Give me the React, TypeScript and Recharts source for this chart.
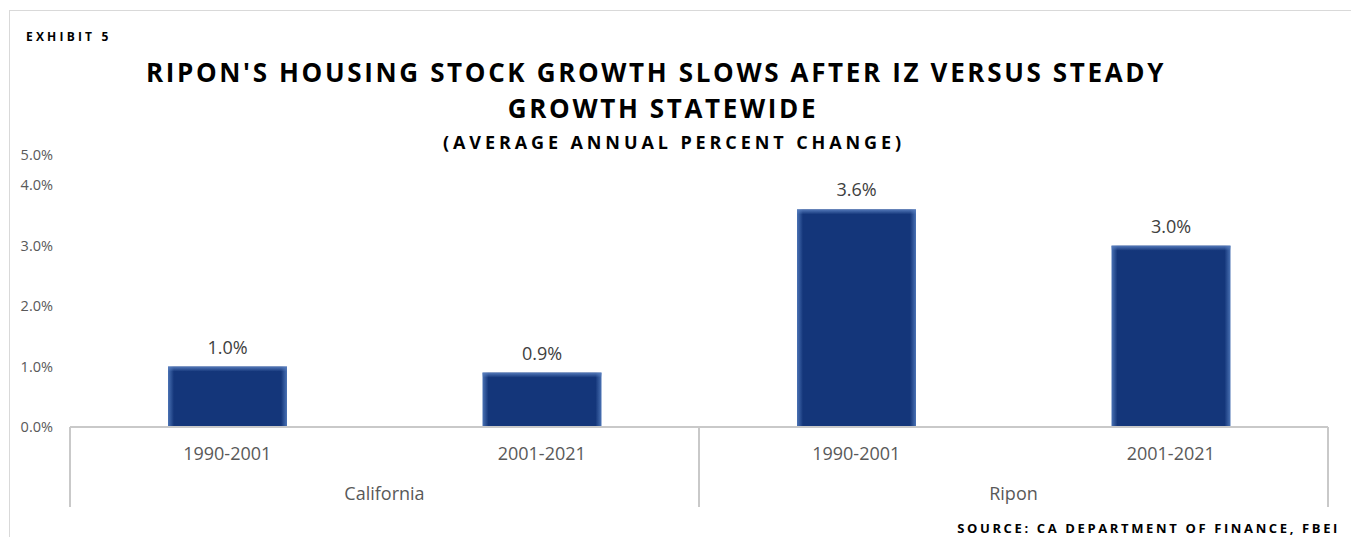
import { BarChart, Bar, XAxis, YAxis, LabelList } from "recharts";

// Housing stock growth, average annual % change
const PERIODS = ["1990-2001", "2001-2021", "1990-2001", "2001-2021"];
const REGIONS = ["California", "California", "Ripon", "Ripon"];
const GROWTH = [1.0, 0.9, 3.6, 3.0];

const Y_TICKS = [0, 1, 2, 3, 4, 4.5];
// the top gridline sits half a step up but Excel labels it with the axis max
const Y_TOP_LABEL = "5.0%";

const NAVY = "#14367a";
const AXIS_GRAY = "#c9c9c9";
const TEXT_GRAY = "#595959";
const FONT = "'Open Sans', sans-serif";

const data = PERIODS.map((period, i) => ({
  period,
  region: REGIONS[i],
  growth: GROWTH[i],
}));

function pct(v: number): string {
  return `${v.toFixed(1)}%`;
}

/** Bar with the soft lighter edge Excel puts on its "glow" fill. */
function GlowBar(props: any) {
  const { x, y, width, height } = props;
  if (!height || height <= 0) return null;
  return (
    <g>
      <rect x={x} y={y} width={width} height={height} fill="url(#barSides)" />
      <rect x={x} y={y} width={width} height={Math.min(5, height)} fill="url(#barTop)" />
    </g>
  );
}

/** Region label plus the Excel-style separators at the group edges. */
function RegionTick(props: any) {
  const { x, y, payload, index, visibleTicksCount } = props;
  const half = payload?.offset ?? 0;
  const top = y - 60; // baseline of the plot
  const bottom = y + 20;
  const isLast = index === (visibleTicksCount ?? 0) - 1;
  return (
    <g>
      <line x1={x - half} x2={x - half} y1={top} y2={bottom} stroke={AXIS_GRAY} strokeWidth={2} />
      {isLast && (
        <line x1={x + half} x2={x + half} y1={top} y2={bottom} stroke={AXIS_GRAY} strokeWidth={2} />
      )}
      <text
        x={x}
        y={y}
        dy="0.71em"
        textAnchor="middle"
        fill={TEXT_GRAY}
        fontSize={18}
        fontFamily={FONT}
      >
        {payload.value}
      </text>
    </g>
  );
}

export default function App() {
  return (
    <div
      style={{
        position: "absolute",
        left: 0,
        top: 0,
        width: 1351,
        height: 537,
        overflow: "hidden",
        background: "#fff",
        fontFamily: FONT,
      }}
    >
      {/* chart frame, only its top and left edges fall inside the picture */}
      <div
        style={{
          position: "absolute",
          left: 9,
          top: 10,
          width: 1400,
          height: 600,
          borderTop: "1px solid #d9d9d9",
          borderLeft: "1px solid #d9d9d9",
        }}
      />

      <div style={{ position: "absolute", left: 0, top: 0 }}>
        <BarChart
          width={1351}
          height={537}
          data={data}
          margin={{ top: 155, right: 23, bottom: 20, left: 10 }}
        >
          <defs>
            <linearGradient id="barSides" x1="0" y1="0" x2="1" y2="0">
              <stop offset="0%" stopColor="#4a72b4" />
              <stop offset="5%" stopColor={NAVY} />
              <stop offset="95%" stopColor={NAVY} />
              <stop offset="100%" stopColor="#4a72b4" />
            </linearGradient>
            <linearGradient id="barTop" x1="0" y1="0" x2="0" y2="1">
              <stop offset="0%" stopColor="#5a80c0" stopOpacity={0.9} />
              <stop offset="100%" stopColor="#5a80c0" stopOpacity={0} />
            </linearGradient>
          </defs>

          <XAxis
            xAxisId="period"
            dataKey="period"
            allowDuplicatedCategory
            height={40}
            tickSize={0}
            tickMargin={20}
            tickLine={false}
            axisLine={{ stroke: AXIS_GRAY, strokeWidth: 2 }}
            tick={{ fill: TEXT_GRAY, fontSize: 18, fontFamily: FONT }}
            interval={0}
          />
          <XAxis
            xAxisId="region"
            dataKey="region"
            allowDuplicatedCategory={false}
            height={50}
            tickSize={0}
            tickMargin={20}
            tickLine={false}
            axisLine={false}
            tick={RegionTick}
            interval={0}
          />
          <YAxis
            width={60}
            domain={[0, 4.5]}
            ticks={Y_TICKS}
            axisLine={false}
            tickLine={false}
            tickSize={0}
            tickMargin={17}
            tick={{ fill: TEXT_GRAY, fontSize: 14.5, fontFamily: FONT }}
            tickFormatter={(v: number) => (v === 4.5 ? Y_TOP_LABEL : pct(v))}
          />
          <Bar
            xAxisId="period"
            dataKey="growth"
            barSize={119}
            shape={GlowBar}
            isAnimationActive={false}
          >
            <LabelList
              dataKey="growth"
              position="top"
              offset={13}
              fill="#404040"
              fontSize={18}
              fontFamily={FONT}
              formatter={(v: any) => pct(Number(v))}
            />
          </Bar>
        </BarChart>
      </div>

      {/* titles */}
      <div
        style={{
          position: "absolute",
          left: 26,
          top: 28,
          fontSize: 12,
          fontWeight: 700,
          letterSpacing: 3.2,
          color: "#000",
          lineHeight: "normal",
        }}
      >
        EXHIBIT 5
      </div>
      <div
        style={{
          position: "absolute",
          left: 0,
          width: 1312,
          top: 54,
          textAlign: "center",
          fontSize: 26,
          fontWeight: 700,
          letterSpacing: 2.65,
          color: "#000",
          lineHeight: "normal",
          whiteSpace: "nowrap",
        }}
      >
        RIPON'S HOUSING STOCK GROWTH SLOWS AFTER IZ VERSUS STEADY
      </div>
      <div
        style={{
          position: "absolute",
          left: 0,
          width: 1326,
          top: 90,
          textAlign: "center",
          fontSize: 26,
          fontWeight: 700,
          letterSpacing: 2.65,
          color: "#000",
          lineHeight: "normal",
          whiteSpace: "nowrap",
        }}
      >
        GROWTH STATEWIDE
      </div>
      <div
        style={{
          position: "absolute",
          left: 0,
          width: 1348,
          top: 130,
          textAlign: "center",
          fontSize: 18,
          fontWeight: 700,
          letterSpacing: 3.9,
          color: "#000",
          lineHeight: "normal",
          whiteSpace: "nowrap",
        }}
      >
        (AVERAGE ANNUAL PERCENT CHANGE)
      </div>
      <div
        style={{
          position: "absolute",
          right: 1351 - 1340,
          top: 519,
          fontSize: 13,
          fontWeight: 700,
          letterSpacing: 2.63,
          color: "#000",
          lineHeight: "normal",
          whiteSpace: "nowrap",
        }}
      >
        SOURCE: CA DEPARTMENT OF FINANCE, FBEI
      </div>
    </div>
  );
}
